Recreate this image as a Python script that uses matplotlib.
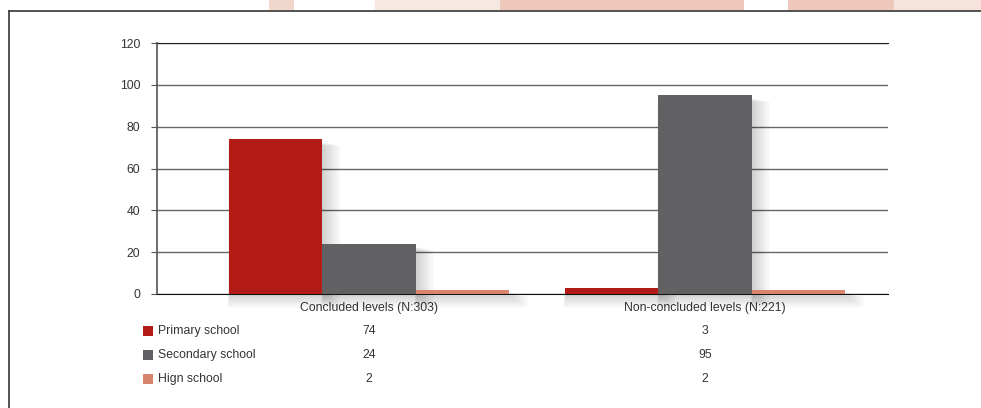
import matplotlib
matplotlib.use("Agg")
import matplotlib.pyplot as plt
from matplotlib.patches import Rectangle
import numpy as np

# data
categories = ["Concluded levels (N:303)", "Non-concluded levels (N:221)"]
series = ["Primary school", "Secondary school", "Hign school"]
primary = [74, 3]
secondary = [24, 95]
high = [2, 2]
values = [primary, secondary, high]
colors = ["#B31B17", "#616163", "#D9846C"]

plt.rcParams['font.family'] = ['Liberation Sans', 'DejaVu Sans']

fig = plt.figure(figsize=(9.81, 4.08), dpi=100)
W, H = 981, 408

# decorative top band and frame
for (x0, x1), a in [((269, 294), 0.45), ((375, 500), 0.25), ((500, 744), 0.6), ((788, 894), 0.6), ((894, 981), 0.3)]:
    fig.patches.append(Rectangle((x0 / W, 1 - 10 / H), (x1 - x0) / W, 10 / H,
                                 transform=fig.transFigure, color="#E2A48E", alpha=a, lw=0))
fig.add_artist(plt.Line2D([8.5 / W, 1], [1 - 10.5 / H, 1 - 10.5 / H], transform=fig.transFigure, color="#444444", lw=1.3))
fig.add_artist(plt.Line2D([8.5 / W, 8.5 / W], [0, 1 - 10.5 / H], transform=fig.transFigure, color="#444444", lw=1.3))

ax = fig.add_axes([157 / W, 1 - 294 / H, (888 - 157) / W, (294 - 43) / H])

x = np.arange(len(categories))
w = 0.278
offsets = [-w, 0, w]
px_x = 1 / 336.0
px_y = 120 / 251.0

# soft shadows (layered translucent boxes)
for i, vals in enumerate(values):
    for k in range(12):
        left = x + offsets[i] - w / 2 + (2 - k * 0.3) * px_x
        right = x + offsets[i] + w / 2 + (1 + k * 1.6) * px_x
        bot = -(k * 1.3) * px_y
        top = np.array(vals) - (3 + k * 0.3) * px_y
        ax.bar(left, top - bot, width=right - left, align="edge",
               bottom=bot, color="black", alpha=0.014,
               lw=0, zorder=1, clip_on=False)

for i, vals in enumerate(values):
    ax.bar(x + offsets[i], vals, width=w, color=colors[i], lw=0, zorder=3)

ax.set_xlim(-0.631, 1.545)
ax.set_ylim(0, 120)
ax.set_yticks(range(0, 121, 20))
ax.yaxis.grid(True, color="#666666", lw=1.0)
ax.set_axisbelow(True)
ax.set_xticks(x)
ax.set_xticklabels(categories, fontsize=8.8, color="#333333")
ax.tick_params(axis="x", length=0, pad=6)
ax.tick_params(axis="y", length=4, width=0.8, color="#555555", labelsize=8.8, labelcolor="#333333", pad=8)
ax.spines["right"].set_visible(False)
ax.spines["top"].set_color("#222222")
ax.spines["left"].set_color("#555555")
ax.spines["bottom"].set_color("#111111")
ax.spines["left"].set_linewidth(1.2)

# data table below
row_y = [331, 355, 379]
for i, name in enumerate(series):
    yy = 1 - row_y[i] / H
    fig.patches.append(Rectangle((143 / W, yy - 5 / H), 10 / W, 10 / H,
                                 transform=fig.transFigure, color=colors[i], lw=0))
    fig.text(158 / W, yy, name, fontsize=8.8, color="#333333", va="center", ha="left")
    for j in range(len(categories)):
        xd = ax.transData.transform((x[j], 0))[0]
        fig.text(xd / W, yy, str(values[i][j]), fontsize=8.8, color="#333333", va="center", ha="center")

fig.savefig("out.png", dpi=100)
